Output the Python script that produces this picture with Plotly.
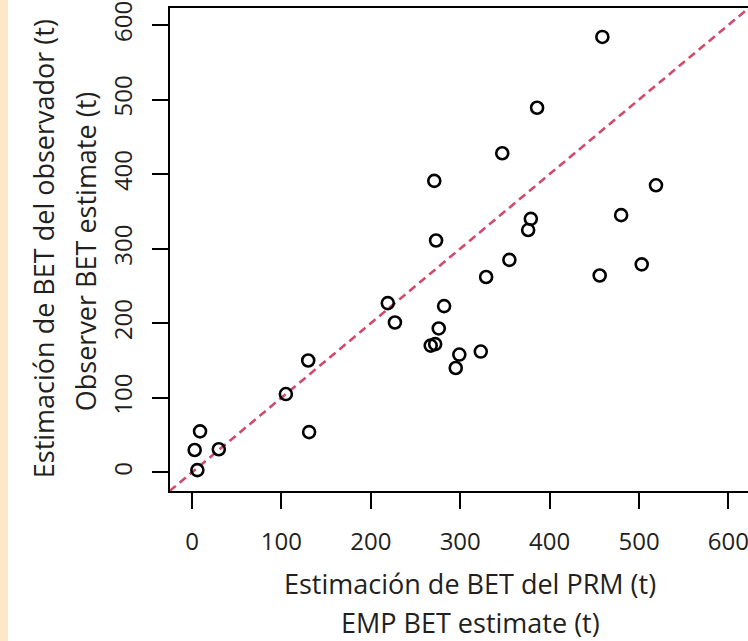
import plotly.graph_objects as go

# EMP (x) vs observer (y) BET estimates, tonnes
emp_bet = [3, 9, 6, 30, 105, 130, 131, 219, 227, 271, 273, 267, 272, 276, 282,
           295, 299, 323, 329, 347, 355, 376, 379, 386, 456, 459, 480, 503, 519]
obs_bet = [30, 55, 3, 31, 105, 150, 54, 227, 201, 391, 311, 170, 172, 193, 223,
           140, 158, 162, 262, 428, 285, 325, 340, 489, 264, 584, 345, 279, 385]

tick_vals = [0, 100, 200, 300, 400, 500, 600]
x_range = [-24.6, 621.9]
y_range = [-25.0, 622.8]

x_title_lines = ["Estimación de BET del PRM (t)", "EMP BET estimate (t)"]
y_title_lines = ["Estimación de BET del observador (t)", "Observer BET estimate (t)"]

FONT = "Open Sans"
TXT = "#231f20"
W, H = 748, 641
L, T, B = 170, 8, 150.4
PW, PH = W - L, H - T - B

fig = go.Figure()

fig.add_trace(go.Scatter(
    x=emp_bet, y=obs_bet, mode="markers",
    marker=dict(symbol="circle-open", size=12, color="black",
                line=dict(width=2.6, color="black")),
    showlegend=False, hoverinfo="x+y",
))

# 1:1 reference line across the full plotting region
lo = min(x_range[0], y_range[0])
hi = max(x_range[1], y_range[1])
fig.add_shape(type="line", xref="x", yref="y", x0=lo, y0=lo, x1=hi, y1=hi,
              line=dict(color="#d04a6c", width=2.6, dash="8px,5px"), layer="below")

# peach strip on the left edge of the page
fig.add_shape(type="rect", xref="paper", yref="paper",
              x0=-L / PW, x1=-(L - 8) / PW, y0=-1, y1=2,
              fillcolor="#fde7c6", line=dict(width=0), layer="below")

fig.update_xaxes(
    range=x_range, tickvals=tick_vals, ticks="outside", ticklen=16, tickwidth=2,
    tickcolor="black", showline=True, linecolor="black", linewidth=2, mirror=True,
    showgrid=False, zeroline=False, ticklabelstandoff=12, ticklabeloverflow="allow",
    tickfont=dict(family=FONT, size=24, color=TXT),
)
fig.update_yaxes(
    range=y_range, tickvals=tick_vals, ticks="outside", ticklen=16, tickwidth=2,
    tickcolor="black", showline=True, linecolor="black", linewidth=2, mirror=False,
    showgrid=False, zeroline=False, tickangle=-90, ticklabelstandoff=10,
    ticklabeloverflow="allow",
    tickfont=dict(family=FONT, size=24, color=TXT),
)

# axis titles, two lines each, positioned in page pixels
for txt, cy in zip(x_title_lines, [583, 622]):
    fig.add_annotation(text=txt, xref="paper", yref="paper",
                       x=(470 - L) / PW, y=-(cy - (H - B)) / PH,
                       xanchor="center", yanchor="middle", showarrow=False,
                       font=dict(family=FONT, size=27, color=TXT))
for txt, cx, cy in zip(y_title_lines, [43, 85], [249, 252]):
    fig.add_annotation(text=txt, xref="paper", yref="paper",
                       x=-(L - cx) / PW, y=((H - B) - cy) / PH,
                       xanchor="center", yanchor="middle", showarrow=False,
                       textangle=-90, font=dict(family=FONT, size=27, color=TXT))

fig.update_layout(
    width=W, height=H,
    margin=dict(l=L, r=0, t=T, b=B),
    paper_bgcolor="white", plot_bgcolor="white",
)

fig.write_html("out.html", config={"displayModeBar": False},
               post_script="document.body.style.margin='0';"
                           "document.body.style.overflow='hidden';")
